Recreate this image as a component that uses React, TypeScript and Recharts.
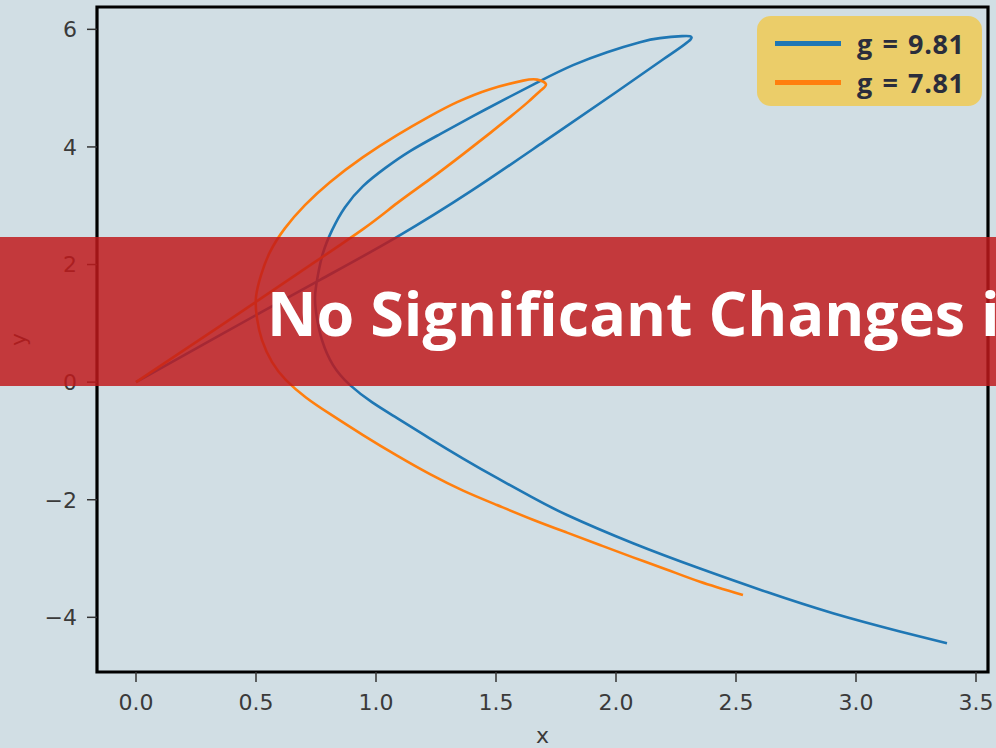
import React from 'react';
import { LineChart, Line, XAxis, YAxis, ReferenceArea, Legend } from 'recharts';

// curve samples (x, y in data units)
const blueX = [
  0, 0.35, 0.767, 1.088, 1.4, 1.7, 2.0, 2.2, 2.311, 2.275, 2.183, 2.1, 1.963, 1.821,
  1.683, 1.546, 1.404, 1.267, 1.142, 1.038, 0.946, 0.871, 0.817, 0.779, 0.758, 0.746,
  0.754, 0.775, 0.821, 0.892, 0.983, 1.088, 1.225, 1.363, 1.504, 1.642, 1.796, 2.071,
  2.35, 2.629, 2.904, 3.183, 3.379,
];
const blueY = [
  0, 0.8, 1.74, 2.47, 3.26, 4.09, 4.93, 5.5, 5.83, 5.884, 5.85, 5.782, 5.612, 5.391,
  5.12, 4.83, 4.524, 4.218, 3.929, 3.639, 3.333, 2.976, 2.585, 2.194, 1.82, 1.446,
  1.088, 0.714, 0.289, -0.051, -0.34, -0.612, -0.96, -1.3, -1.63, -1.94, -2.26, -2.74,
  -3.17, -3.57, -3.93, -4.24, -4.44,
];
const orangeX = [
  0, 0.35, 0.683, 0.946, 1.088, 1.225, 1.363, 1.475, 1.558, 1.633, 1.683, 1.708,
  1.671, 1.613, 1.475, 1.338, 1.225, 1.088, 0.946, 0.808, 0.704, 0.621, 0.558, 0.521,
  0.5, 0.504, 0.525, 0.567, 0.625, 0.708, 0.808, 0.946, 1.088, 1.225, 1.363, 1.504,
  1.654, 1.796, 1.933, 2.071, 2.213, 2.35, 2.529,
];
const orangeY = [
  0, 0.952, 1.871, 2.602, 3.044, 3.452, 3.878, 4.235, 4.507, 4.762, 4.949, 5.068,
  5.145, 5.128, 4.983, 4.762, 4.524, 4.201, 3.827, 3.401, 3.01, 2.619, 2.211, 1.82,
  1.446, 1.088, 0.714, 0.34, 0.034, -0.26, -0.54, -0.9, -1.25, -1.565, -1.845, -2.09,
  -2.34, -2.56, -2.77, -2.98, -3.19, -3.395, -3.622,
];

const seriesNames = ['g = 9.81', 'g = 7.81'];
const seriesColors = ['#1f77b4', '#ff7f0e'];
const xTicks = [0, 0.5, 1, 1.5, 2, 2.5, 3, 3.5];
const yTicks = [-4, -2, 0, 2, 4, 6];
const xDomain = [-0.1625, 3.55];
const yDomain = [-4.93, 6.38];
const bannerText = 'No Significant Changes i';

const zip = (xs: number[], ys: number[]) => xs.map((x, i) => ({ x, y: ys[i] }));
const blueData = zip(blueX, blueY);
const orangeData = zip(orangeX, orangeY);

const tickFont = { fill: '#3a3a3a', fontSize: 22, fontFamily: 'DejaVu Sans' };
const fmtY = (v: number) => (v < 0 ? '\u2212' + Math.abs(v) : String(v));

const LegendBox = ({ payload }: any) => {
  const items = [...(payload || [])].sort(
    (a: any, b: any) => seriesNames.indexOf(a.value) - seriesNames.indexOf(b.value)
  );
  return (
    <div
      style={{
        background: '#ebcd69',
        borderRadius: 14,
        width: 225,
        height: 90,
        boxSizing: 'border-box',
        padding: '8px 0 0 18px',
      }}
    >
      {items.map((p: any) => (
        <div key={p.value} style={{ display: 'flex', alignItems: 'center', height: 39 }}>
          <span style={{ width: 66, height: 5, background: p.color, marginRight: 16 }} />
          <span
            style={{
              fontFamily: '"Open Sans"',
              fontWeight: 700,
              fontSize: 27,
              letterSpacing: 0.6,
              wordSpacing: 2,
              color: '#2a2d3c',
              lineHeight: '39px',
            }}
          >
            {p.value}
          </span>
        </div>
      ))}
    </div>
  );
};

const YLabel = ({ viewBox }: any) => {
  const cx = viewBox.x + 18;
  const cy = viewBox.y + viewBox.height / 2;
  return (
    <text
      x={cx}
      y={cy}
      transform={`rotate(-90 ${cx} ${cy})`}
      textAnchor="middle"
      dominantBaseline="central"
      {...tickFont}
    >
      y
    </text>
  );
};

export default function App() {
  return (
    <div
      style={{
        position: 'absolute',
        left: 0,
        top: 0,
        width: 996,
        height: 748,
        background: '#d1dee4',
        overflow: 'hidden',
      }}
    >
      <LineChart width={996} height={748} margin={{ top: 7, right: 8, left: 0, bottom: 0 }}>
        <XAxis
          type="number"
          dataKey="x"
          domain={xDomain}
          ticks={xTicks}
          allowDataOverflow
          height={76}
          axisLine={false}
          tickSize={10}
          tickMargin={12}
          tickLine={{ stroke: '#333', strokeWidth: 1.5 }}
          tick={tickFont}
          tickFormatter={(v: number) => v.toFixed(1)}
          label={{ value: 'x', position: 'insideBottom', offset: 5, ...tickFont }}
        />
        <YAxis
          type="number"
          dataKey="y"
          domain={yDomain}
          ticks={yTicks}
          allowDataOverflow
          width={97}
          axisLine={false}
          tickSize={10}
          tickMargin={10}
          tickLine={{ stroke: '#333', strokeWidth: 1.5 }}
          tick={tickFont}
          tickFormatter={fmtY}
          label={{ content: YLabel }}
        />
        <ReferenceArea
          x1={xDomain[0]}
          x2={xDomain[1]}
          y1={yDomain[0]}
          y2={yDomain[1]}
          fill="none"
          stroke="#000"
          strokeWidth={3.2}
          ifOverflow="visible"
        />
        <Line
          data={blueData}
          dataKey="y"
          name={seriesNames[0]}
          type="natural"
          stroke={seriesColors[0]}
          strokeWidth={2.6}
          dot={false}
          activeDot={false}
          isAnimationActive={false}
        />
        <Line
          data={orangeData}
          dataKey="y"
          name={seriesNames[1]}
          type="natural"
          stroke={seriesColors[1]}
          strokeWidth={2.6}
          dot={false}
          activeDot={false}
          isAnimationActive={false}
        />
        <Legend
          layout="vertical"
          align="center"
          verticalAlign="middle"
          content={<LegendBox />}
          wrapperStyle={{ top: 16, left: 757, width: 225, height: 90 }}
        />
      </LineChart>
      <svg
        width={996}
        height={748}
        style={{ position: 'absolute', left: 0, top: 0, pointerEvents: 'none' }}
      >
        <rect x={0} y={237} width={996} height={149} fill="#c0191c" fillOpacity={0.84} />
        <text
          x={267}
          y={336}
          fill="#ffffff"
          fontFamily="Open Sans"
          fontWeight={700}
          fontSize={61}
        >
          {bannerText}
        </text>
      </svg>
    </div>
  );
}
